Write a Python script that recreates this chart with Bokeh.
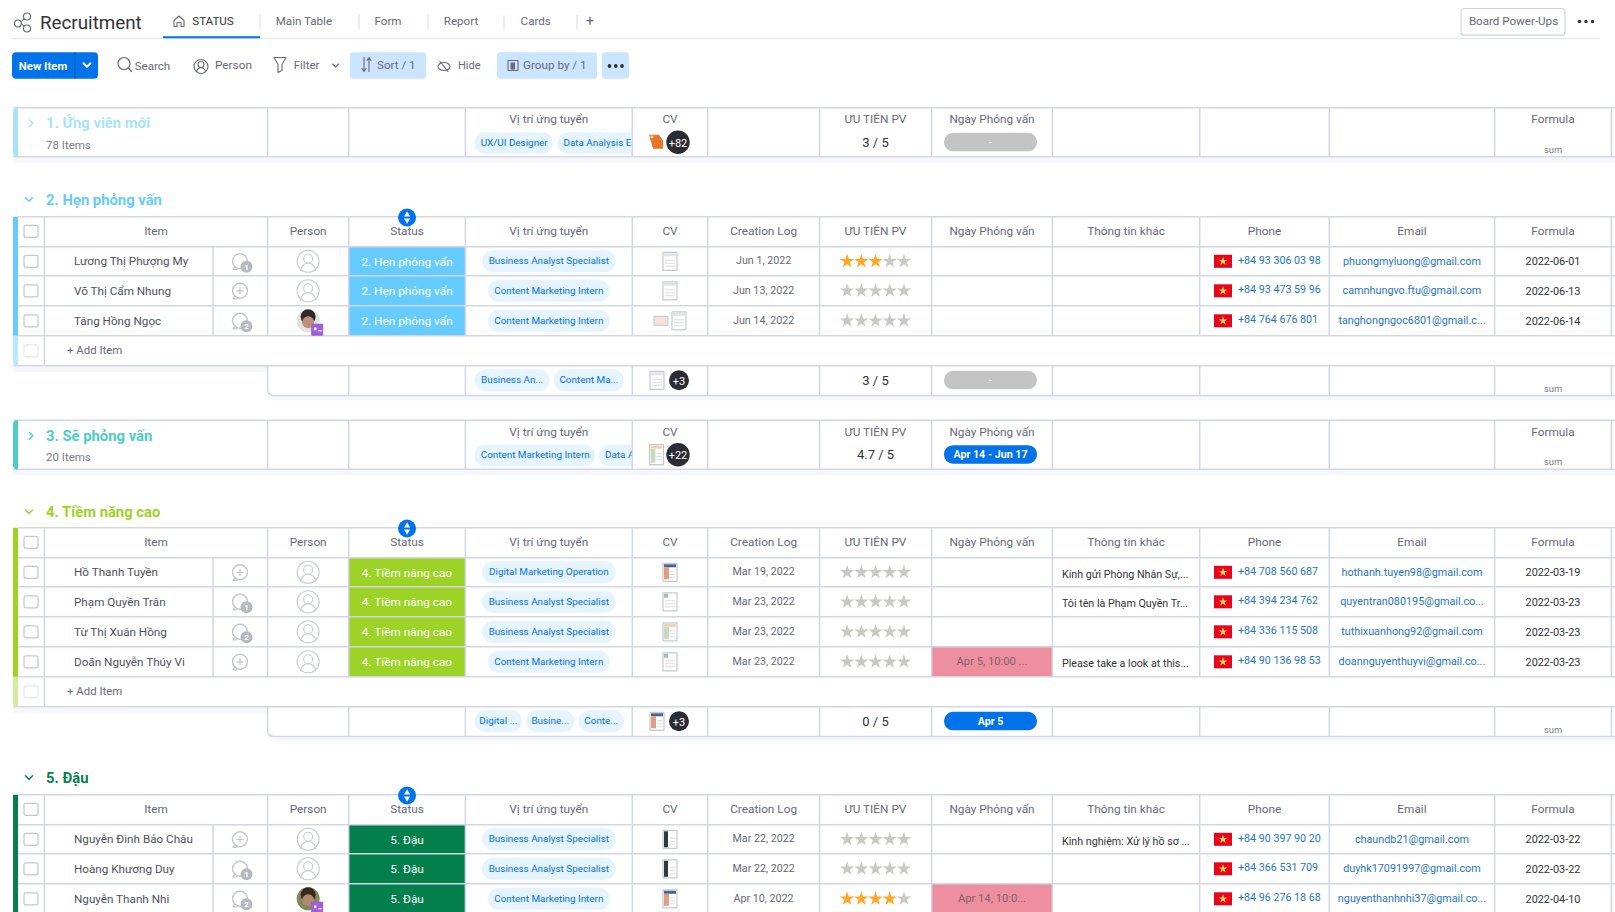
from math import pi

from bokeh.core.properties import value
from bokeh.embed import file_html
from bokeh.models import Range1d
from bokeh.plotting import figure
from bokeh.resources import INLINE

# ---- board content ----
board_title = "Recruitment"
tab_labels = ["STATUS", "Main Table", "Form", "Report", "Cards", "+"]
toolbar_labels = ["New Item", "Search", "Person", "Filter", "Sort / 1", "Hide", "Group by / 1"]
power_ups = "Board Power-Ups"
column_titles = ["Item", "Person", "Status", "Vị trí ứng tuyển", "CV", "Creation Log", "ƯU TIÊN PV",
                 "Ngày Phỏng vấn", "Thông tin khác", "Phone", "Email", "Formula"]

g1_title = "1. Ứng viên mới"
g1_count = "78 Items"
g1_pills = ["UX/UI Designer", "Data Analysis Es"]
g1_more = "+82"
g1_rating = "3 / 5"
g1_dates = "-"

g2_title = "2. Hẹn phỏng vấn"
g2_names = ["Lương Thị Phượng My", "Võ Thị Cẩm Nhung", "Tăng Hồng Ngọc"]
g2_updates = [1, 0, 2]
g2_photo = [0, 0, 1]
g2_jobs = ["Business Analyst Specialist", "Content Marketing Intern", "Content Marketing Intern"]
g2_cv = [0, 0, 0]
g2_log = ["Jun 1, 2022", "Jun 13, 2022", "Jun 14, 2022"]
g2_stars = [3, 0, 0]
g2_meet = ["", "", ""]
g2_info = ["", "", ""]
g2_phone = ["+84 93 306 03 98", "+84 93 473 59 96", "+84 764 676 801"]
g2_email = ["phuongmyluong@gmail.com", "camnhungvo.ftu@gmail.com", "tanghongngoc6801@gmail.c..."]
g2_formula = ["2022-06-01", "2022-06-13", "2022-06-14"]
g2_sum_pills = ["Business An...", "Content Ma..."]
g2_sum_more = "+3"
g2_sum_rating = "3 / 5"
g2_sum_dates = "-"

g3_title = "3. Sẽ phỏng vấn"
g3_count = "20 Items"
g3_pills = ["Content Marketing Intern", "Data Analysis"]
g3_more = "+22"
g3_rating = "4.7 / 5"
g3_dates = "Apr 14 - Jun 17"

g4_title = "4. Tiềm năng cao"
g4_names = ["Hồ Thanh Tuyền", "Phạm Quyền Trân", "Từ Thị Xuân Hồng", "Doãn Nguyễn Thúy Vi"]
g4_updates = [0, 1, 2, 0]
g4_photo = [0, 0, 0, 0]
g4_jobs = ["Digital Marketing Operation", "Business Analyst Specialist", "Business Analyst Specialist",
           "Content Marketing Intern"]
g4_cv = [1, 4, 2, 4]
g4_log = ["Mar 19, 2022", "Mar 23, 2022", "Mar 23, 2022", "Mar 23, 2022"]
g4_stars = [0, 0, 0, 0]
g4_meet = ["", "", "", "Apr 5, 10:00 ..."]
g4_info = ["Kính gửi Phòng Nhân Sự,...", "Tôi tên là Phạm Quyền Tr...", "", "Please take a look at this..."]
g4_phone = ["+84 708 560 687", "+84 394 234 762", "+84 336 115 508", "+84 90 136 98 53"]
g4_email = ["hothanh.tuyen98@gmail.com", "quyentran080195@gmail.co...", "tuthixuanhong92@gmail.com",
            "doannguyenthuyvi@gmail.co..."]
g4_formula = ["2022-03-19", "2022-03-23", "2022-03-23", "2022-03-23"]
g4_sum_pills = ["Digital ...", "Busine...", "Conte..."]
g4_sum_more = "+3"
g4_sum_rating = "0 / 5"
g4_sum_dates = "Apr 5"

g5_title = "5. Đậu"
g5_names = ["Nguyễn Đình Bảo Châu", "Hoàng Khương Duy", "Nguyễn Thanh Nhi"]
g5_updates = [0, 1, 2]
g5_photo = [0, 0, 2]
g5_jobs = ["Business Analyst Specialist", "Business Analyst Specialist", "Content Marketing Intern"]
g5_cv = [3, 3, 1]
g5_log = ["Mar 22, 2022", "Mar 22, 2022", "Apr 10, 2022"]
g5_stars = [0, 0, 4]
g5_meet = ["", "", "Apr 14, 10:0..."]
g5_info = ["Kinh nghiệm: Xử lý hồ sơ ...", "", ""]
g5_phone = ["+84 90 397 90 20", "+84 366 531 709", "+84 96 276 18 68"]
g5_email = ["chaundb21@gmail.com", "duyhk17091997@gmail.com", "nguyenthanhnhi37@gmail.co..."]
g5_formula = ["2022-03-22", "2022-03-22", "2022-04-10"]

# ---- layout and colours ----
FONT = "Roboto"
LINE = "#d3d6e8"
GREY = "#676879"
DARK = "#323338"
BLUE = "#0073ea"
PILL = "#e5f4ff"
COLS = [44.4, 213, 267.6, 348.7, 465.4, 632.3, 707.7, 819.5, 931.6, 1052.4, 1199.7, 1329.3, 1494.6, 1611.4]
C_PERSON, C_STATUS, C_JOB, C_CV, C_LOG, C_RATE, C_MEET, C_INFO, C_PHONE, C_EMAIL, C_FORM = [
    (COLS[i] + COLS[i + 1]) / 2 for i in range(2, 13)]
RIGHT = 1640
CV_TONES = [("#d4d4d8", "#e4e4e8"), ("#e0a080", "#47658a"), ("#c6dcbc", "#ecd4b4"), ("#2e3a40", "#2e3a40"),
            ("#ffffff", "#a9bfa8")]
PILL_W = {"Business Analyst Specialist": 134, "Digital Marketing Operation": 134, "Content Marketing Intern": 122}

p = figure(width=1615, height=912, x_range=Range1d(0.5, 1615.5), y_range=Range1d(913, 1),
           x_axis_type=None, y_axis_type=None, toolbar_location=None, tools="",
           output_backend="svg", background_fill_color="white", border_fill_color="white")
p.min_border = 0
p.outline_line_color = None
p.grid.visible = False


def label(x, y, s, size=11.8, color=GREY, align="center", bold=False):
    p.text(x=[x], y=[y], text=[s], text_font=value(FONT), text_font_size=f"{size}px", text_color=color,
           text_align=align, text_baseline="middle", text_font_style="bold" if bold else "normal")


def box(x0, x1, y0, y1, fill, line=None, radius=0, width=1):
    p.quad(left=[x0], right=[x1], top=[y0], bottom=[y1], fill_color=fill, line_color=line,
           line_width=width, border_radius=radius)


def hline(y, x0=18, x1=RIGHT, color=LINE, width=1.5):
    p.segment(x0=[x0], y0=[y], x1=[x1], y1=[y], line_color=color, line_width=width)


def vline(x, y0, y1, color=LINE, width=1.5):
    p.segment(x0=[x], y0=[y0], x1=[x], y1=[y1], line_color=color, line_width=width)


def stroke(xs, ys, color=GREY, width=1.2):
    p.line(x=xs, y=ys, line_color=color, line_width=width, line_cap="round", line_join="round")


def dot(x, y, size, fill, line=None, width=1, marker="circle"):
    p.scatter(x=[x], y=[y], size=size, marker=marker, fill_color=fill, line_color=line, line_width=width)


def chevron(x, y, down=True, color="#9aa0b0", s=3.5, width=1.5):
    if down:
        stroke([x - s, x, x + s], [y - s / 2, y + s / 2, y - s / 2], color, width)
    else:
        stroke([x - s / 2, x + s / 2, x - s / 2], [y - s, y, y + s], color, width)


def page(x, y, tone=0, w=14, h=18):
    main, top = CV_TONES[tone]
    box(x - w / 2, x + w / 2, y - h / 2, y + h / 2, "white", "#c5c7d8", width=1.2)
    if tone == 3:
        box(x - w / 2 + 1, x - w / 2 + 5, y - h / 2 + 1, y + h / 2 - 1, main)
    elif tone == 4:
        box(x - w / 2 + 1, x - 2, y - h / 2 + 1, y - h / 2 + 5, top)
    else:
        box(x - w / 2 + 1, x + w / 2 - 1, y - h / 2 + 1, y - h / 2 + 4, top)
    if tone in (1, 2):
        box(x - w / 2 + 1, x - 1, y - h / 2 + 4, y + h / 2 - 2, main)
    for k in range(3):
        yy = y - 1 + k * 3
        p.segment(x0=[x], y0=[yy], x1=[x + w / 2 - 2], y1=[yy], line_color="#dcdce0", line_width=1)
        if tone in (0, 4):
            p.segment(x0=[x - w / 2 + 2], y0=[yy], x1=[x], y1=[yy], line_color="#dcdce0", line_width=1)


def more_badge(x, y, s, r):
    dot(x, y, r * 2, "#2b2c33")
    label(x, y + 0.5, s, 11, "white")


def bubble(x, y, n):
    dot(x, y, 15, None, "#c5c7d0", 1.4)
    stroke([x - 5, x - 7, x - 3], [y + 5, y + 8, y + 8], "#c5c7d0", 1.3)
    if n == 0:
        dot(x, y, 7, None, "#c5c7d0", 1.2, "cross")
    else:
        dot(x + 6.5, y + 5.5, 12, "#b8b9bf")
        label(x + 6.5, y + 6, str(n), 8, "white", bold=True)


def person(x, y, photo=0):
    if photo == 0:
        dot(x, y, 22, "white", "#c9cbd3", 1.1)
        dot(x, y - 2.5, 9, None, "#c9cbd3", 1.1)
        p.arc(x=[x], y=[y + 9.5], radius=7.5, start_angle=0, end_angle=pi, line_color="#c9cbd3", line_width=1.1)
        return
    dot(x, y, 23, "#dde4e2" if photo == 1 else "#7f8a58")
    dot(x, y - 4, 15, "#2f2a28" if photo == 1 else "#3a2a1e")
    dot(x, y + 1.5, 12, "#c08f78" if photo == 1 else "#b08a70")
    box(x + 3, x + 15, y + 3, y + 15, "#a25ddc", radius=1)
    dot(x + 7, y + 8, 3, "white")
    p.segment(x0=[x + 10], y0=[y + 10], x1=[x + 14], y1=[y + 10], line_color="white", line_width=1)


def status_handle(x, y):
    dot(x, y, 18, BLUE)
    dot(x, y - 2.8, 6, "white", marker="triangle")
    dot(x, y + 2.8, 6, "white", marker="inverted_triangle")


def stars(x, n, y):
    for k in range(5):
        dot(x + (k - 2) * 14.2, y, 15, "#ffa726" if k < n else "#c9c8c4", marker="star")


def job_pill(y, s):
    w = PILL_W[s]
    box(C_JOB - w / 2, C_JOB + w / 2, y - 11, y + 11, PILL, radius=11)
    label(C_JOB, y - 0.5, s, 9.9, BLUE)


def shadow(x0, y):
    box(x0, RIGHT, y + 1, y + 6, "#f6f7fb")


def summary_cells(y, rating, dates, dates_fill):
    label(C_RATE, y, rating, 13, DARK)
    box(C_MEET - 48, C_MEET + 45, y - 9.5, y + 9, dates_fill, radius=9)
    label(C_MEET - 1.5, y, dates, 10.7, "white", bold=dates_fill == BLUE)


def sum_word(y):
    label(C_FORM, y, "sum", 9.3, "#7b7c88")


def collapsed_group(top, color, title, count, pills, pill_xs, more, rating, dates, dates_fill, tone):
    bottom = top + 49
    shadow(13, bottom)
    box(13, RIGHT, top, bottom, "white")
    for (x0, x1), s in zip(pill_xs, pills):
        box(x0, x1, top + 24.5, top + 46, PILL, radius=10)
        label(x0 + 6, top + 34.5, s, 9.9, BLUE, "left")
    box(COLS[5], COLS[6], top + 1, bottom - 1, "white")
    hline(top, 13)
    hline(bottom, 13)
    for x in COLS[2:]:
        vline(x, top, bottom)
    box(13, 18, top, bottom, color, radius=(4, 0, 0, 4))
    chevron(31, top + 15.5, False, color)
    label(46, top + 15.5, title, 14.8, color, "left", True)
    label(46, top + 37, count, 11.5, "#7b7c88", "left")
    for x, s in ((C_JOB, column_titles[3]), (C_CV, column_titles[4]), (C_RATE, column_titles[6]),
                 (C_MEET, column_titles[7]), (C_FORM, column_titles[11])):
        label(x, top + 11.4, s)
    more_badge(678, top + 34.5, more, 11.7)
    summary_cells(top + 34.5, rating, dates, dates_fill)
    sum_word(top + 41.5)
    if tone == 1:
        p.patch(x=[649, 659, 663, 663, 653], y=[top + 27, top + 27, top + 33, top + 41, top + 41],
                fill_color="#e8762a", line_color=None)
        dot(652, top + 29, 3, "#f7d7b8")
    else:
        page(656.5, top + 34.5, 2, 14, 20)


def open_group(title_y, top, color, status, title, names, updates, photos, jobs, cvs, log, rates, meet, info,
               phones, emails, formula, add_row=True, extra_doc=False):
    chevron(29, title_y, True, color)
    label(46, title_y, title, 14.8, color, "left", True)
    tops = [top + 30]
    for i in range(len(names)):
        tops.append(tops[-1] + (29 if i == 0 else 30))
    end = tops[-1]
    for i in range(len(names)):
        box(COLS[3], COLS[4], tops[i], tops[i + 1], color)
        if meet[i]:
            box(COLS[8], COLS[9], tops[i], tops[i + 1], "#ee8f9f")
    hline(top)
    for y in tops:
        hline(y)
    if add_row:
        shadow(13, end + 30)
        box(13, 18, top, end, color)
        p.quad(left=[13], right=[18], top=[end], bottom=[end + 30], fill_color=color, fill_alpha=0.45,
               line_color=None, border_radius=(0, 0, 0, 4))
        hline(end + 30, 13)
    else:
        box(13, 18, top, 914, color)
    vline(COLS[0], top, end + 30 if add_row else end)
    vline(COLS[1], top + 30, end)
    for x in COLS[2:]:
        vline(x, top, end)
    # column titles
    label(156, top + 14.3, column_titles[0])
    for x, s in zip((C_PERSON, C_STATUS, C_JOB, C_CV, C_LOG, C_RATE, C_MEET, C_INFO, C_PHONE, C_EMAIL, C_FORM),
                    column_titles[1:]):
        label(x, top + 14.5, s)
    box(24, 38, top + 8.5, top + 20.5, "white", "#c5c7d0", radius=2, width=1.2)
    status_handle(C_STATUS, top + 0.7)
    for i, name in enumerate(names):
        y = (tops[i] + tops[i + 1]) / 2
        box(24, 38, y - 6, y + 6, "white", "#c5c7d0", radius=2, width=1.2)
        label(74, y, name, 11.7, "#50515c", "left")
        bubble(240, y, updates[i])
        person(C_PERSON, y, photos[i])
        label(C_STATUS, y + 0.3, status, 11.8, "white")
        job_pill(y, jobs[i])
        if extra_doc and i == 2:
            box(654, 668, y - 4.5, y + 4.5, "#f3e3d6", "#c5c7d8")
            page(679, y, 0)
        else:
            page(C_CV, y, cvs[i])
        label(C_LOG, y - 0.8, log[i], 10.7, "#676879")
        stars(C_RATE, rates[i], y)
        if meet[i]:
            label(C_MEET, y, meet[i], 11.2, "#86606b")
        if info[i]:
            label(1062, y + 2, info[i], 10.7, DARK, "left")
        box(1214, 1232, y - 6.5, y + 6.5, "#e8041c")
        dot(1223, y, 9, "#ffe14d", marker="star")
        label(1238, y - 1.2, phones[i], 10.7, "#1f76c2", "left")
        label(C_EMAIL, y, emails[i], 10.8, "#1f76c2")
        label(C_FORM, y, formula[i], 10.9, DARK)
    if add_row:
        box(24, 38, end + 9, end + 21, "white", "#e6e8f0", radius=2, width=1.2)
        label(67, end + 14.5, "+ Add Item", 11.4, GREY, "left")
    return end + 30


def summary_row(top, pills, pill_xs, more, rating, dates, dates_fill, tone):
    bottom = top + 29.6
    p.quad(left=[COLS[2]], right=[RIGHT], top=[top], bottom=[bottom + 5], fill_color="#f6f7fb", line_color=None,
           border_radius=(0, 0, 0, 6))
    p.quad(left=[COLS[2]], right=[RIGHT], top=[top], bottom=[bottom], fill_color="white", line_color=LINE,
           line_width=1.5, border_radius=(0, 0, 0, 6))
    for x in COLS[3:]:
        vline(x, top, bottom)
    for (x0, x1), s in zip(pill_xs, pills):
        box(x0, x1, top + 3.5, top + 25.5, PILL, radius=11)
        label((x0 + x1) / 2, top + 14, s, 9.9, BLUE)
    page(657, top + 14.5, tone)
    more_badge(679, top + 14.5, more, 10)
    summary_cells(top + 14.5, rating, dates, dates_fill)
    sum_word(top + 22.5)


# ---- header ----
p.line(x=[22, 28], y=[21, 17], line_color=GREY, line_width=1.2)
p.line(x=[22, 28], y=[25, 29], line_color=GREY, line_width=1.2)
dot(18, 24, 7, "white", GREY, 1.2)
dot(27, 17, 7, "white", GREY, 1.2)
dot(27, 29, 7, "white", GREY, 1.2)
label(40, 23, board_title, 18.8, DARK, "left")
stroke([174, 179, 184, 184, 181, 181, 177, 177, 174, 174], [21, 16.5, 21, 27, 27, 23, 23, 27, 27, 21], GREY, 1.1)
hline(39, 12, 1600, "#e6e9ef", 1.5)
box(163, 260, 36.8, 38.8, BLUE)
for x, s in zip((213, 304, 388, 461, 535.7, 590), tab_labels):
    label(x, 21.3, s, 11.6 if s != "+" else 14, DARK if s == "STATUS" else GREY)
for x in (260, 359, 428, 504, 577):
    vline(x, 15.5, 29.5, "#d8dae3", 1)
box(1461, 1565, 9, 35.7, "white", "#d0d4e4", radius=3, width=1.2)
label(1513.5, 21.3, power_ups, 11.6, GREY)
for x in (1579.5, 1586, 1592.5):
    dot(x, 22, 3.4, DARK)

# toolbar
box(12, 98, 52.7, 79.3, BLUE, radius=4)
vline(75, 52.7, 79.3, "#005bb8", 1)
label(43, 66, toolbar_labels[0], 11.4, "white", bold=True)
chevron(87, 65.5, True, "white", 3.5, 2)
dot(124, 64, 12, None, GREY, 1.2)
stroke([128.5, 131.5], [68.5, 72], GREY, 1.3)
label(134.7, 66, toolbar_labels[1], 11.5, GREY, "left")
dot(201, 67, 14, None, GREY, 1.1)
dot(201, 65, 6, None, GREY, 1.1)
p.arc(x=[201], y=[72.5], radius=4.3, start_angle=0, end_angle=pi, line_color=GREY, line_width=1.1)
label(215, 65.7, toolbar_labels[2], 11.8, GREY, "left")
stroke([274, 286, 282, 282, 278, 278, 274], [58, 58, 65, 71, 73, 65, 58], GREY, 1.1)
label(293.7, 65.7, toolbar_labels[3], 11.5, GREY, "left")
chevron(335.7, 66, True, GREY, 3, 1.1)
box(350, 426, 52.7, 79.3, "#cce5ff", radius=3)
stroke([364, 364, 362, 364, 366], [58, 72, 69, 72, 69], GREY, 1.1)
stroke([369, 369, 367, 369, 371], [72, 58, 61, 58, 61], GREY, 1.1)
label(377, 65.7, toolbar_labels[4], 11.6, GREY, "left")
p.ellipse(x=[444], y=[67], width=12, height=8, fill_color=None, line_color=GREY, line_width=1.1)
stroke([440, 448], [62, 72], GREY, 1.1)
label(458, 65.7, toolbar_labels[5], 11, GREY, "left")
box(497, 597, 52.7, 79.3, "#cce5ff", radius=3)
box(508, 518, 61, 71, None, GREY, width=1.1)
box(510.5, 515, 63, 70, GREY)
label(523, 65.7, toolbar_labels[6], 11.7, GREY, "left")
box(602, 629, 52.7, 79.3, "#cce5ff", radius=3)
for x in (609.5, 615.8, 622):
    dot(x, 66.5, 3.8, DARK)

# ---- groups ----
collapsed_group(108.3, "#a9e3fb", g1_title, g1_count, g1_pills, [(474.7, 552.7), (557.4, 650)],
                g1_more, g1_rating, g1_dates, "#c4c4c4", 1)
end = open_group(200, 217.3, "#66ccff", "2. Hẹn phỏng vấn", g2_title, g2_names, g2_updates, g2_photo, g2_jobs, g2_cv,
                 g2_log, g2_stars, g2_meet, g2_info, g2_phone, g2_email, g2_formula, extra_doc=True)
summary_row(end, g2_sum_pills, [(474.7, 549.6), (553.7, 624)], g2_sum_more, g2_sum_rating, g2_sum_dates, "#c4c4c4", 0)
collapsed_group(420.7, "#4eccc6", g3_title, g3_count, g3_pills, [(474.7, 595), (599, 680)],
                g3_more, g3_rating, g3_dates, BLUE, 2)
end = open_group(512.3, 528.3, "#9cd326", "4. Tiềm năng cao", g4_title, g4_names, g4_updates, g4_photo, g4_jobs, g4_cv,
                 g4_log, g4_stars, g4_meet, g4_info, g4_phone, g4_email, g4_formula)
summary_row(end, g4_sum_pills, [(474.7, 522), (526, 574.4), (578.5, 624)], g4_sum_more, g4_sum_rating, g4_sum_dates,
            BLUE, 1)
open_group(778, 795.3, "#037f4c", "5. Đậu", g5_title, g5_names, g5_updates, g5_photo, g5_jobs, g5_cv,
           g5_log, g5_stars, g5_meet, g5_info, g5_phone, g5_email, g5_formula, add_row=False)

open("out.html", "w").write(file_html(p, INLINE))
